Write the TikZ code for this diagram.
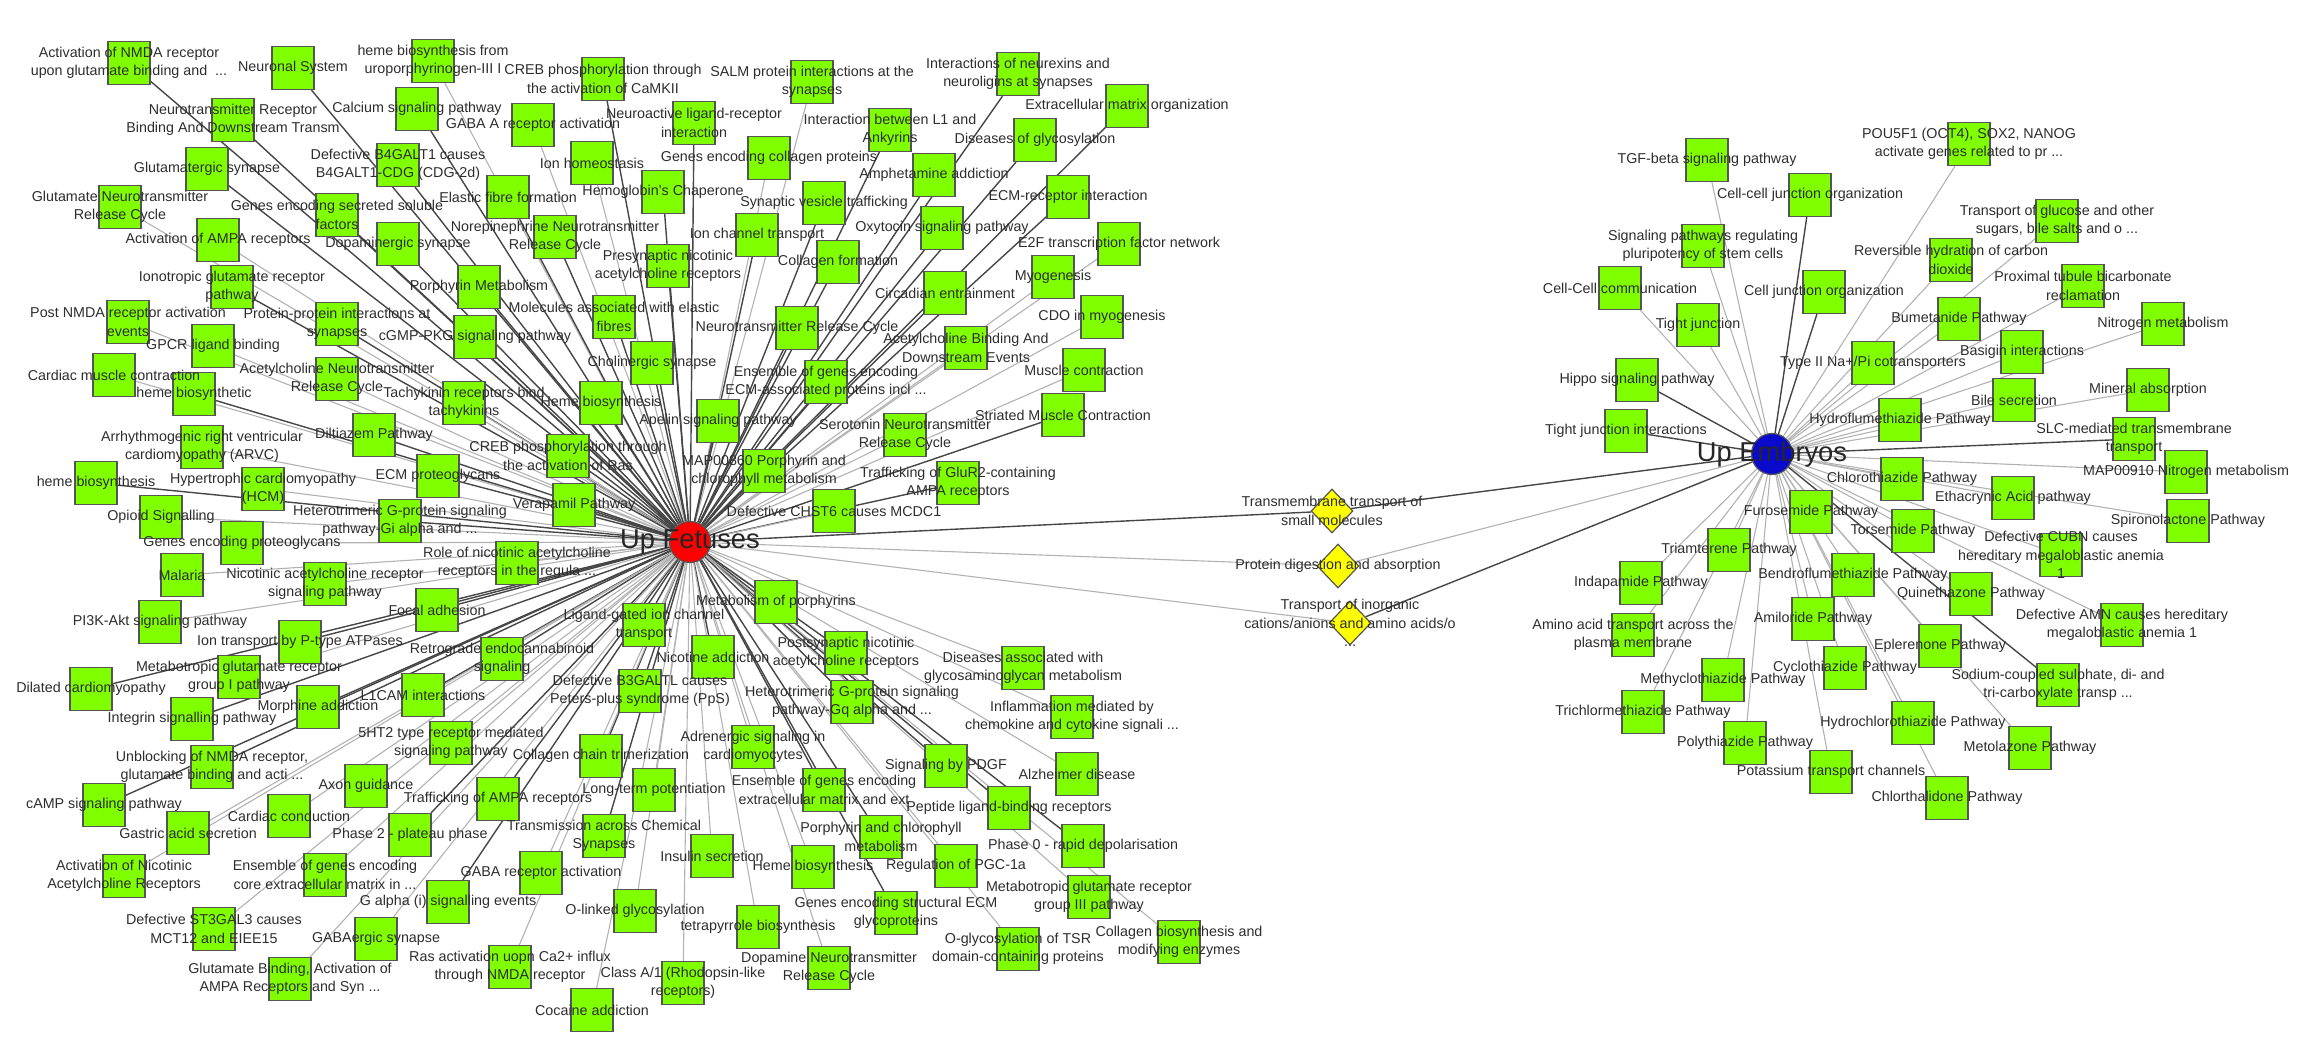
\documentclass[tikz,border=0pt]{standalone}
\usepackage{fontspec}
\setmainfont{Liberation Sans}
\usetikzlibrary{shapes.geometric,backgrounds}

\definecolor{termgreen}{RGB}{128,255,0}
\definecolor{termline}{RGB}{85,85,85}
\definecolor{hubred}{RGB}{255,0,0}
\definecolor{hubblue}{RGB}{10,10,205}
\definecolor{sharedyellow}{RGB}{255,255,0}
\definecolor{edgedark}{RGB}{70,70,70}
\definecolor{edgelight}{RGB}{178,178,178}
\definecolor{labelgray}{RGB}{45,45,45}

\begin{document}
\begin{tikzpicture}[x=1pt,y=-1pt]
\tikzstyle{term} = [draw=termline, line width=1.2pt, fill=termgreen, shape=rectangle, minimum width=42pt, minimum height=43pt, inner sep=0pt]
\tikzstyle{hub} = [draw=termline, line width=1.2pt, shape=circle, minimum size=41pt, inner sep=0pt]
\tikzstyle{shared} = [draw=termline, line width=1.2pt, fill=sharedyellow, shape=diamond, minimum width=42pt, minimum height=44pt, inner sep=0pt]
\tikzstyle{tl} = [inner sep=0pt, align=center, text=labelgray, font=\fontsize{14.3}{18.3}\selectfont]
\tikzstyle{hl} = [inner sep=0pt, text=black!85, font=\fontsize{27.3}{30}\selectfont]
\tikzstyle{darkedge} = [draw=edgedark, line width=1.4pt]
\tikzstyle{lightedge} = [draw=edgelight, line width=1.1pt]
\useasboundingbox (0,0) rectangle (2313,1057);

\node [term] (actnmda) at (129, 63) {};
\node [term] (neuronal) at (293, 68) {};
\node [term] (hemeuro) at (433, 61) {};
\node [term] (crebcamk) at (603, 79) {};
\node [term] (salm) at (812, 82) {};
\node [term] (neurexin) at (1018, 74) {};
\node [term] (calcium) at (417, 109) {};
\node [term] (gabaa) at (533, 125) {};
\node [term] (ntrb) at (233, 120) {};
\node [term] (neuroact) at (694, 123) {};
\node [term] (ecmorg) at (1127, 106) {};
\node [term] (lonank) at (890, 130) {};
\node [term] (glyco) at (1035, 140) {};
\node [term] (ionhomeo) at (592, 163) {};
\node [term] (glutsyn) at (207, 169) {};
\node [term] (bgalt) at (398, 165) {};
\node [term] (collprot) at (769, 158) {};
\node [term] (hemoglobin) at (663, 192) {};
\node [term] (amphet) at (934, 175) {};
\node [term] (elastic) at (508, 197) {};
\node [term] (synves) at (824, 203) {};
\node [term] (ecmrec) at (1068, 197) {};
\node [term] (glutntrc) at (120, 207) {};
\node [term] (secreted) at (337, 215) {};
\node [term] (noreph) at (555, 237) {};
\node [term] (ionchan) at (757, 235) {};
\node [term] (oxytocin) at (942, 228) {};
\node [term] (actampa) at (218, 240) {};
\node [term] (dopa) at (398, 244) {};
\node [term] (presyn) at (668, 266) {};
\node [term] (collform) at (838, 262) {};
\node [term] (etwof) at (1119, 244) {};
\node [term] (ionotropic) at (232, 287) {};
\node [term] (porphmet) at (479, 287) {};
\node [term] (myogen) at (1053, 277) {};
\node [term] (circadian) at (945, 293) {};
\node [term] (postnmda) at (128, 322) {};
\node [term] (ppisyn) at (337, 324) {};
\node [term] (molelastic) at (614, 317) {};
\node [term] (ntrc) at (797, 328) {};
\node [term] (cdo) at (1102, 317) {};
\node [term] (gpcr) at (213, 346) {};
\node [term] (cgmp) at (475, 337) {};
\node [term] (cholin) at (652, 363) {};
\node [term] (achbind) at (966, 348) {};
\node [term] (musclec) at (1084, 370) {};
\node [term] (cardmusc) at (114, 375) {};
\node [term] (hemesynth) at (194, 394) {};
\node [term] (achntrc) at (337, 379) {};
\node [term] (tachy) at (464, 403) {};
\node [term] (hemeb) at (601, 403) {};
\node [term] (ensecm) at (826, 382) {};
\node [term] (apelin) at (718, 421) {};
\node [term] (diltiazem) at (374, 435) {};
\node [term] (serotonin) at (905, 435) {};
\node [term] (striated) at (1063, 415) {};
\node [term] (arvc) at (202, 447) {};
\node [term] (crebras) at (568, 456) {};
\node [term] (mapporph) at (764, 471) {};
\node [term] (hemea) at (96, 483) {};
\node [term] (hcm) at (263, 489) {};
\node [term] (ecmprot) at (438, 476) {};
\node [term] (glurtwo) at (958, 483) {};
\node [term] (opioid) at (161, 517) {};
\node [term] (verapamil) at (574, 505) {};
\node [term] (hetgi) at (400, 521) {};
\node [term] (chst) at (834, 511) {};
\node [term] (proteogly) at (242, 543) {};
\node [term] (malaria) at (182, 575) {};
\node [term] (nicsig) at (325, 584) {};
\node [term] (nicrole) at (517, 563) {};
\node [term] (pik) at (160, 622) {};
\node [term] (focal) at (437, 610) {};
\node [term] (ptype) at (300, 642) {};
\node [term] (lgic) at (644, 625) {};
\node [term] (metporph) at (776, 602) {};
\node [term] (retro) at (502, 659) {};
\node [term] (nicotine) at (713, 657) {};
\node [term] (postsyn) at (846, 653) {};
\node [term] (gag) at (1023, 668) {};
\node [term] (mglura) at (239, 677) {};
\node [term] (dilated) at (91, 689) {};
\node [term] (lcam) at (423, 695) {};
\node [term] (bgaltl) at (640, 691) {};
\node [term] (hetgq) at (852, 702) {};
\node [term] (integrin) at (192, 719) {};
\node [term] (morphine) at (318, 707) {};
\node [term] (inflam) at (1072, 717) {};
\node [term] (htwo) at (451, 743) {};
\node [term] (unblock) at (212, 767) {};
\node [term] (colltrim) at (601, 756) {};
\node [term] (adrenergic) at (753, 747) {};
\node [term] (axon) at (366, 786) {};
\node [term] (camp) at (104, 805) {};
\node [term] (traffampa) at (498, 799) {};
\node [term] (ltp) at (654, 790) {};
\node [term] (pdgf) at (946, 766) {};
\node [term] (alzheimer) at (1077, 774) {};
\node [term] (ensextra) at (824, 790) {};
\node [term] (gastric) at (188, 833) {};
\node [term] (cardcond) at (289, 816) {};
\node [term] (phasetwo) at (410, 835) {};
\node [term] (transchem) at (604, 836) {};
\node [term] (peptide) at (1009, 808) {};
\node [term] (porchl) at (881, 837) {};
\node [term] (actnic) at (124, 876) {};
\node [term] (enscore) at (325, 875) {};
\node [term] (gabarec) at (541, 873) {};
\node [term] (insulin) at (712, 856) {};
\node [term] (hemec) at (813, 867) {};
\node [term] (pgc) at (956, 866) {};
\node [term] (phasezero) at (1083, 846) {};
\node [term] (gai) at (448, 902) {};
\node [term] (mglurc) at (1089, 897) {};
\node [term] (stgal) at (214, 929) {};
\node [term] (gabaergic) at (376, 939) {};
\node [term] (olinked) at (635, 911) {};
\node [term] (tetrapyr) at (758, 927) {};
\node [term] (structecm) at (896, 913) {};
\node [term] (tsr) at (1018, 949) {};
\node [term] (collbio) at (1179, 942) {};
\node [term] (glutbind) at (290, 979) {};
\node [term] (rasca) at (510, 967) {};
\node [term] (dopantrc) at (829, 968) {};
\node [term] (rhodopsin) at (683, 983) {};
\node [term] (cocaine) at (592, 1010) {};

\node [term] (tgfb) at (1707, 160) {};
\node [term] (cjorga) at (1810, 195) {};
\node [term] (pou) at (1969, 144) {};
\node [term] (sigpluri) at (1703, 246) {};
\node [term] (glucose) at (2057, 221) {};
\node [term] (revhyd) at (1951, 260) {};
\node [term] (cellcell) at (1620, 288) {};
\node [term] (cjorgb) at (1824, 292) {};
\node [term] (proximal) at (2083, 286) {};
\node [term] (tightj) at (1698, 325) {};
\node [term] (bumet) at (1959, 319) {};
\node [term] (nitrogen) at (2163, 324) {};
\node [term] (typeii) at (1873, 363) {};
\node [term] (basigin) at (2022, 352) {};
\node [term] (hippo) at (1637, 380) {};
\node [term] (bile) at (2014, 400) {};
\node [term] (mineral) at (2148, 390) {};
\node [term] (hydroflu) at (1900, 420) {};
\node [term] (tightji) at (1626, 431) {};
\node [term] (slc) at (2134, 439) {};
\node [term] (mapnitro) at (2186, 472) {};
\node [term] (chlorothia) at (1902, 479) {};
\node [term] (ethacrynic) at (2013, 498) {};
\node [term] (spirono) at (2188, 521) {};
\node [term] (furosemide) at (1811, 512) {};
\node [term] (torsemide) at (1913, 531) {};
\node [term] (cubn) at (2061, 555) {};
\node [term] (triamterene) at (1729, 550) {};
\node [term] (bendro) at (1853, 575) {};
\node [term] (quineth) at (1971, 594) {};
\node [term] (indapamide) at (1641, 583) {};
\node [term] (amiloride) at (1813, 619) {};
\node [term] (amn) at (2122, 625) {};
\node [term] (aminoacid) at (1633, 635) {};
\node [term] (eplerenone) at (1940, 646) {};
\node [term] (cyclothia) at (1845, 668) {};
\node [term] (methyclo) at (1723, 680) {};
\node [term] (sodium) at (2058, 685) {};
\node [term] (trichlor) at (1643, 712) {};
\node [term] (hydrochloro) at (1913, 723) {};
\node [term] (polythia) at (1745, 743) {};
\node [term] (metolazone) at (2030, 748) {};
\node [term] (potassium) at (1831, 772) {};
\node [term] (chlorthal) at (1947, 798) {};

\node [shared] (transmem) at (1332, 511) {};
\node [shared] (protdig) at (1338, 566) {};
\node [shared] (inorganic) at (1350, 623) {};

\node [hub, fill=hubred] (fet) at (690, 542) {};
\node [hub, fill=hubblue] (emb) at (1772, 454) {};

\begin{scope}[on background layer]
\draw [darkedge] (fet) -- (actnmda);
\draw [darkedge] (fet) -- (neuronal);
\draw [lightedge] (fet) -- (hemeuro);
\draw [darkedge] (fet) -- (crebcamk);
\draw [lightedge] (fet) -- (salm);
\draw [darkedge] (fet) -- (neurexin);
\draw [darkedge] (fet) -- (calcium);
\draw [lightedge] (fet) -- (gabaa);
\draw [darkedge] (fet) -- (ntrb);
\draw [darkedge] (fet) -- (neuroact);
\draw [darkedge] (fet) -- (ecmorg);
\draw [darkedge] (fet) -- (lonank);
\draw [darkedge] (fet) -- (glyco);
\draw [lightedge] (fet) -- (ionhomeo);
\draw [darkedge] (fet) -- (glutsyn);
\draw [darkedge] (fet) -- (bgalt);
\draw [lightedge] (fet) -- (collprot);
\draw [darkedge] (fet) -- (hemoglobin);
\draw [darkedge] (fet) -- (amphet);
\draw [darkedge] (fet) -- (elastic);
\draw [darkedge] (fet) -- (synves);
\draw [darkedge] (fet) -- (ecmrec);
\draw [lightedge] (fet) -- (glutntrc);
\draw [darkedge] (fet) -- (secreted);
\draw [darkedge] (fet) -- (noreph);
\draw [darkedge] (fet) -- (ionchan);
\draw [darkedge] (fet) -- (oxytocin);
\draw [lightedge] (fet) -- (actampa);
\draw [darkedge] (fet) -- (dopa);
\draw [darkedge] (fet) -- (presyn);
\draw [darkedge] (fet) -- (collform);
\draw [lightedge] (fet) -- (etwof);
\draw [darkedge] (fet) -- (ionotropic);
\draw [darkedge] (fet) -- (porphmet);
\draw [lightedge] (fet) -- (myogen);
\draw [darkedge] (fet) -- (circadian);
\draw [lightedge] (fet) -- (postnmda);
\draw [darkedge] (fet) -- (ppisyn);
\draw [darkedge] (fet) -- (molelastic);
\draw [darkedge] (fet) -- (ntrc);
\draw [lightedge] (fet) -- (cdo);
\draw [lightedge] (fet) -- (gpcr);
\draw [darkedge] (fet) -- (cgmp);
\draw [darkedge] (fet) -- (cholin);
\draw [lightedge] (fet) -- (achbind);
\draw [lightedge] (fet) -- (musclec);
\draw [lightedge] (fet) -- (cardmusc);
\draw [darkedge] (fet) -- (hemesynth);
\draw [lightedge] (fet) -- (achntrc);
\draw [lightedge] (fet) -- (tachy);
\draw [darkedge] (fet) -- (hemeb);
\draw [darkedge] (fet) -- (ensecm);
\draw [darkedge] (fet) -- (apelin);
\draw [darkedge] (fet) -- (diltiazem);
\draw [lightedge] (fet) -- (serotonin);
\draw [darkedge] (fet) -- (striated);
\draw [lightedge] (fet) -- (arvc);
\draw [darkedge] (fet) -- (crebras);
\draw [darkedge] (fet) -- (mapporph);
\draw [darkedge] (fet) -- (hemea);
\draw [lightedge] (fet) -- (hcm);
\draw [darkedge] (fet) -- (ecmprot);
\draw [darkedge] (fet) -- (glurtwo);
\draw [lightedge] (fet) -- (opioid);
\draw [darkedge] (fet) -- (verapamil);
\draw [darkedge] (fet) -- (hetgi);
\draw [lightedge] (fet) -- (chst);
\draw [lightedge] (fet) -- (proteogly);
\draw [lightedge] (fet) -- (malaria);
\draw [lightedge] (fet) -- (nicsig);
\draw [lightedge] (fet) -- (nicrole);
\draw [lightedge] (fet) -- (pik);
\draw [darkedge] (fet) -- (focal);
\draw [darkedge] (fet) -- (ptype);
\draw [darkedge] (fet) -- (lgic);
\draw [lightedge] (fet) -- (metporph);
\draw [darkedge] (fet) -- (retro);
\draw [darkedge] (fet) -- (nicotine);
\draw [darkedge] (fet) -- (postsyn);
\draw [lightedge] (fet) -- (gag);
\draw [lightedge] (fet) -- (mglura);
\draw [darkedge] (fet) -- (dilated);
\draw [darkedge] (fet) -- (lcam);
\draw [darkedge] (fet) -- (bgaltl);
\draw [darkedge] (fet) -- (hetgq);
\draw [darkedge] (fet) -- (integrin);
\draw [darkedge] (fet) -- (morphine);
\draw [lightedge] (fet) -- (inflam);
\draw [lightedge] (fet) -- (htwo);
\draw [darkedge] (fet) -- (unblock);
\draw [darkedge] (fet) -- (colltrim);
\draw [lightedge] (fet) -- (adrenergic);
\draw [lightedge] (fet) -- (axon);
\draw [darkedge] (fet) -- (camp);
\draw [darkedge] (fet) -- (traffampa);
\draw [lightedge] (fet) -- (ltp);
\draw [darkedge] (fet) -- (pdgf);
\draw [lightedge] (fet) -- (alzheimer);
\draw [darkedge] (fet) -- (ensextra);
\draw [lightedge] (fet) -- (gastric);
\draw [lightedge] (fet) -- (cardcond);
\draw [darkedge] (fet) -- (phasetwo);
\draw [darkedge] (fet) -- (transchem);
\draw [darkedge] (fet) -- (peptide);
\draw [darkedge] (fet) -- (porchl);
\draw [lightedge] (fet) -- (actnic);
\draw [lightedge] (fet) -- (enscore);
\draw [lightedge] (fet) -- (gabarec);
\draw [lightedge] (fet) -- (insulin);
\draw [lightedge] (fet) -- (hemec);
\draw [lightedge] (fet) -- (pgc);
\draw [darkedge] (fet) -- (phasezero);
\draw [darkedge] (fet) -- (gai);
\draw [lightedge] (fet) -- (mglurc);
\draw [lightedge] (fet) -- (stgal);
\draw [lightedge] (fet) -- (gabaergic);
\draw [lightedge] (fet) -- (olinked);
\draw [lightedge] (fet) -- (tetrapyr);
\draw [darkedge] (fet) -- (structecm);
\draw [lightedge] (fet) -- (tsr);
\draw [lightedge] (fet) -- (collbio);
\draw [lightedge] (fet) -- (glutbind);
\draw [lightedge] (fet) -- (rasca);
\draw [lightedge] (fet) -- (dopantrc);
\draw [lightedge] (fet) -- (rhodopsin);
\draw [lightedge] (fet) -- (cocaine);

\draw [darkedge] (fet) -- (transmem);
\draw [lightedge] (fet) -- (protdig);
\draw [lightedge] (fet) -- (inorganic);
\draw [darkedge] (emb) -- (transmem);
\draw [lightedge] (emb) -- (protdig);
\draw [darkedge] (emb) -- (inorganic);

\draw [lightedge] (emb) -- (tgfb);
\draw [darkedge] (emb) -- (cjorga);
\draw [lightedge] (emb) -- (pou);
\draw [lightedge] (emb) -- (sigpluri);
\draw [lightedge] (emb) -- (glucose);
\draw [lightedge] (emb) -- (revhyd);
\draw [lightedge] (emb) -- (cellcell);
\draw [darkedge] (emb) -- (cjorgb);
\draw [lightedge] (emb) -- (proximal);
\draw [lightedge] (emb) -- (tightj);
\draw [lightedge] (emb) -- (bumet);
\draw [lightedge] (emb) -- (nitrogen);
\draw [lightedge] (emb) -- (typeii);
\draw [lightedge] (emb) -- (basigin);
\draw [darkedge] (emb) -- (hippo);
\draw [lightedge] (emb) -- (bile);
\draw [lightedge] (emb) -- (mineral);
\draw [lightedge] (emb) -- (hydroflu);
\draw [darkedge] (emb) -- (tightji);
\draw [darkedge] (emb) -- (slc);
\draw [lightedge] (emb) -- (mapnitro);
\draw [lightedge] (emb) -- (chlorothia);
\draw [lightedge] (emb) -- (ethacrynic);
\draw [lightedge] (emb) -- (spirono);
\draw [lightedge] (emb) -- (furosemide);
\draw [lightedge] (emb) -- (torsemide);
\draw [lightedge] (emb) -- (cubn);
\draw [lightedge] (emb) -- (triamterene);
\draw [lightedge] (emb) -- (bendro);
\draw [lightedge] (emb) -- (quineth);
\draw [lightedge] (emb) -- (indapamide);
\draw [lightedge] (emb) -- (amiloride);
\draw [lightedge] (emb) -- (amn);
\draw [lightedge] (emb) -- (aminoacid);
\draw [lightedge] (emb) -- (eplerenone);
\draw [lightedge] (emb) -- (cyclothia);
\draw [lightedge] (emb) -- (methyclo);
\draw [darkedge] (emb) -- (sodium);
\draw [lightedge] (emb) -- (trichlor);
\draw [lightedge] (emb) -- (hydrochloro);
\draw [lightedge] (emb) -- (polythia);
\draw [lightedge] (emb) -- (metolazone);
\draw [lightedge] (emb) -- (potassium);
\draw [lightedge] (emb) -- (chlorthal);
\end{scope}

\node [tl] at (actnmda) {Activation of NMDA receptor\\upon glutamate binding and \ ...};
\node [tl] at (neuronal) {Neuronal System};
\node [tl] at (hemeuro) {heme biosynthesis from\\uroporphyrinogen-III I};
\node [tl] at (crebcamk) {CREB phosphorylation through\\the activation of CaMKII};
\node [tl] at (salm) {SALM protein interactions at the\\synapses};
\node [tl] at (neurexin) {Interactions of neurexins and\\neuroligins at synapses};
\node [tl] at (calcium) {Calcium signaling pathway};
\node [tl] at (gabaa) {GABA A receptor activation};
\node [tl] at (ntrb) {Neurotransmitter Receptor\\Binding And Downstream Transm};
\node [tl] at (neuroact) {Neuroactive ligand-receptor\\interaction};
\node [tl] at (ecmorg) {Extracellular matrix organization};
\node [tl] at (lonank) {Interaction between L1 and\\Ankyrins};
\node [tl] at (glyco) {Diseases of glycosylation};
\node [tl] at (ionhomeo) {Ion homeostasis};
\node [tl] at (glutsyn) {Glutamatergic synapse};
\node [tl] at (bgalt) {Defective B4GALT1 causes\\B4GALT1-CDG (CDG-2d)};
\node [tl] at (collprot) {Genes encoding collagen proteins};
\node [tl] at (hemoglobin) {Hemoglobin's Chaperone};
\node [tl] at (amphet) {Amphetamine addiction};
\node [tl] at (elastic) {Elastic fibre formation};
\node [tl] at (synves) {Synaptic vesicle trafficking};
\node [tl] at (ecmrec) {ECM-receptor interaction};
\node [tl] at (glutntrc) {Glutamate Neurotransmitter\\Release Cycle};
\node [tl] at (secreted) {Genes encoding secreted soluble\\factors};
\node [tl] at (noreph) {Norepinephrine Neurotransmitter\\Release Cycle};
\node [tl] at (ionchan) {Ion channel transport};
\node [tl] at (oxytocin) {Oxytocin signaling pathway};
\node [tl] at (actampa) {Activation of AMPA receptors};
\node [tl] at (dopa) {Dopaminergic synapse};
\node [tl] at (presyn) {Presynaptic nicotinic\\acetylcholine receptors};
\node [tl] at (collform) {Collagen formation};
\node [tl] at (etwof) {E2F transcription factor network};
\node [tl] at (ionotropic) {Ionotropic glutamate receptor\\pathway};
\node [tl] at (porphmet) {Porphyrin Metabolism};
\node [tl] at (myogen) {Myogenesis};
\node [tl] at (circadian) {Circadian entrainment};
\node [tl] at (postnmda) {Post NMDA receptor activation\\events};
\node [tl] at (ppisyn) {Protein-protein interactions at\\synapses};
\node [tl] at (molelastic) {Molecules associated with elastic\\fibres};
\node [tl] at (ntrc) {Neurotransmitter Release Cycle};
\node [tl] at (cdo) {CDO in myogenesis};
\node [tl] at (gpcr) {GPCR ligand binding};
\node [tl] at (cgmp) {cGMP-PKG signaling pathway};
\node [tl] at (cholin) {Cholinergic synapse};
\node [tl] at (achbind) {Acetylcholine Binding And\\Downstream Events};
\node [tl] at (musclec) {Muscle contraction};
\node [tl] at (cardmusc) {Cardiac muscle contraction};
\node [tl] at (hemesynth) {heme biosynthetic};
\node [tl] at (achntrc) {Acetylcholine Neurotransmitter\\Release Cycle};
\node [tl] at (tachy) {Tachykinin receptors bind\\tachykinins};
\node [tl] at (hemeb) {Heme biosynthesis};
\node [tl] at (ensecm) {Ensemble of genes encoding\\ECM-associated proteins incl ...};
\node [tl] at (apelin) {Apelin signaling pathway};
\node [tl] at (diltiazem) {Diltiazem Pathway};
\node [tl] at (serotonin) {Serotonin Neurotransmitter\\Release Cycle};
\node [tl] at (striated) {Striated Muscle Contraction};
\node [tl] at (arvc) {Arrhythmogenic right ventricular\\cardiomyopathy (ARVC)};
\node [tl] at (crebras) {CREB phosphorylation through\\the activation of Ras};
\node [tl] at (mapporph) {MAP00860 Porphyrin and\\chlorophyll metabolism};
\node [tl] at (hemea) {heme biosynthesis};
\node [tl] at (hcm) {Hypertrophic cardiomyopathy\\(HCM)};
\node [tl] at (ecmprot) {ECM proteoglycans};
\node [tl] at (glurtwo) {Trafficking of GluR2-containing\\AMPA receptors};
\node [tl] at (opioid) {Opioid Signalling};
\node [tl] at (verapamil) {Verapamil Pathway};
\node [tl] at (hetgi) {Heterotrimeric G-protein signaling\\pathway-Gi alpha and ...};
\node [tl] at (chst) {Defective CHST6 causes MCDC1};
\node [tl] at (proteogly) {Genes encoding proteoglycans};
\node [tl] at (malaria) {Malaria};
\node [tl] at (nicsig) {Nicotinic acetylcholine receptor\\signaling pathway};
\node [tl] at (nicrole) {Role of nicotinic acetylcholine\\receptors in the regula ...};
\node [tl] at (pik) {PI3K-Akt signaling pathway};
\node [tl] at (focal) {Focal adhesion};
\node [tl] at (ptype) {Ion transport by P-type ATPases};
\node [tl] at (lgic) {Ligand-gated ion channel\\transport};
\node [tl] at (metporph) {Metabolism of porphyrins};
\node [tl] at (retro) {Retrograde endocannabinoid\\signaling};
\node [tl] at (nicotine) {Nicotine addiction};
\node [tl] at (postsyn) {Postsynaptic nicotinic\\acetylcholine receptors};
\node [tl] at (gag) {Diseases associated with\\glycosaminoglycan metabolism};
\node [tl] at (mglura) {Metabotropic glutamate receptor\\group I pathway};
\node [tl] at (dilated) {Dilated cardiomyopathy};
\node [tl] at (lcam) {L1CAM interactions};
\node [tl] at (bgaltl) {Defective B3GALTL causes\\Peters-plus syndrome (PpS)};
\node [tl] at (hetgq) {Heterotrimeric G-protein signaling\\pathway-Gq alpha and ...};
\node [tl] at (integrin) {Integrin signalling pathway};
\node [tl] at (morphine) {Morphine addiction};
\node [tl] at (inflam) {Inflammation mediated by\\chemokine and cytokine signali ...};
\node [tl] at (htwo) {5HT2 type receptor mediated\\signaling pathway};
\node [tl] at (unblock) {Unblocking of NMDA receptor,\\glutamate binding and acti ...};
\node [tl] at (colltrim) {Collagen chain trimerization};
\node [tl] at (adrenergic) {Adrenergic signaling in\\cardiomyocytes};
\node [tl] at (axon) {Axon guidance};
\node [tl] at (camp) {cAMP signaling pathway};
\node [tl] at (traffampa) {Trafficking of AMPA receptors};
\node [tl] at (ltp) {Long-term potentiation};
\node [tl] at (pdgf) {Signaling by PDGF};
\node [tl] at (alzheimer) {Alzheimer disease};
\node [tl] at (ensextra) {Ensemble of genes encoding\\extracellular matrix and ext};
\node [tl] at (gastric) {Gastric acid secretion};
\node [tl] at (cardcond) {Cardiac conduction};
\node [tl] at (phasetwo) {Phase 2 - plateau phase};
\node [tl] at (transchem) {Transmission across Chemical\\Synapses};
\node [tl] at (peptide) {Peptide ligand-binding receptors};
\node [tl] at (porchl) {Porphyrin and chlorophyll\\metabolism};
\node [tl] at (actnic) {Activation of Nicotinic\\Acetylcholine Receptors};
\node [tl] at (enscore) {Ensemble of genes encoding\\core extracellular matrix in ...};
\node [tl] at (gabarec) {GABA receptor activation};
\node [tl] at (insulin) {Insulin secretion};
\node [tl] at (hemec) {Heme biosynthesis};
\node [tl] at (pgc) {Regulation of PGC-1a};
\node [tl] at (phasezero) {Phase 0 - rapid depolarisation};
\node [tl] at (gai) {G alpha (i) signalling events};
\node [tl] at (mglurc) {Metabotropic glutamate receptor\\group III pathway};
\node [tl] at (stgal) {Defective ST3GAL3 causes\\MCT12 and EIEE15};
\node [tl] at (gabaergic) {GABAergic synapse};
\node [tl] at (olinked) {O-linked glycosylation};
\node [tl] at (tetrapyr) {tetrapyrrole biosynthesis};
\node [tl] at (structecm) {Genes encoding structural ECM\\glycoproteins};
\node [tl] at (tsr) {O-glycosylation of TSR\\domain-containing proteins};
\node [tl] at (collbio) {Collagen biosynthesis and\\modifying enzymes};
\node [tl] at (glutbind) {Glutamate Binding, Activation of\\AMPA Receptors and Syn ...};
\node [tl] at (rasca) {Ras activation uopn Ca2+ influx\\through NMDA receptor};
\node [tl] at (dopantrc) {Dopamine Neurotransmitter\\Release Cycle};
\node [tl] at (rhodopsin) {Class A/1 (Rhodopsin-like\\receptors)};
\node [tl] at (cocaine) {Cocaine addiction};

\node [tl] at (tgfb) {TGF-beta signaling pathway};
\node [tl] at (cjorga) {Cell-cell junction organization};
\node [tl] at (pou) {POU5F1 (OCT4), SOX2, NANOG\\activate genes related to pr ...};
\node [tl] at (sigpluri) {Signaling pathways regulating\\pluripotency of stem cells};
\node [tl] at (glucose) {Transport of glucose and other\\sugars, bile salts and o ...};
\node [tl] at (revhyd) {Reversible hydration of carbon\\dioxide};
\node [tl] at (cellcell) {Cell-Cell communication};
\node [tl] at (cjorgb) {Cell junction organization};
\node [tl] at (proximal) {Proximal tubule bicarbonate\\reclamation};
\node [tl] at (tightj) {Tight junction};
\node [tl] at (bumet) {Bumetanide Pathway};
\node [tl] at (nitrogen) {Nitrogen metabolism};
\node [tl] at (typeii) {Type II Na+/Pi cotransporters};
\node [tl] at (basigin) {Basigin interactions};
\node [tl] at (hippo) {Hippo signaling pathway};
\node [tl] at (bile) {Bile secretion};
\node [tl] at (mineral) {Mineral absorption};
\node [tl] at (hydroflu) {Hydroflumethiazide Pathway};
\node [tl] at (tightji) {Tight junction interactions};
\node [tl] at (slc) {SLC-mediated transmembrane\\transport};
\node [tl] at (mapnitro) {MAP00910 Nitrogen metabolism};
\node [tl] at (chlorothia) {Chlorothiazide Pathway};
\node [tl] at (ethacrynic) {Ethacrynic Acid pathway};
\node [tl] at (spirono) {Spironolactone Pathway};
\node [tl] at (furosemide) {Furosemide Pathway};
\node [tl] at (torsemide) {Torsemide Pathway};
\node [tl] at (cubn) {Defective CUBN causes\\hereditary megaloblastic anemia\\1};
\node [tl] at (triamterene) {Triamterene Pathway};
\node [tl] at (bendro) {Bendroflumethiazide Pathway};
\node [tl] at (quineth) {Quinethazone Pathway};
\node [tl] at (indapamide) {Indapamide Pathway};
\node [tl] at (amiloride) {Amiloride Pathway};
\node [tl] at (amn) {Defective AMN causes hereditary\\megaloblastic anemia 1};
\node [tl] at (aminoacid) {Amino acid transport across the\\plasma membrane};
\node [tl] at (eplerenone) {Eplerenone Pathway};
\node [tl] at (cyclothia) {Cyclothiazide Pathway};
\node [tl] at (methyclo) {Methyclothiazide Pathway};
\node [tl] at (sodium) {Sodium-coupled sulphate, di- and\\tri-carboxylate transp ...};
\node [tl] at (trichlor) {Trichlormethiazide Pathway};
\node [tl] at (hydrochloro) {Hydrochlorothiazide Pathway};
\node [tl] at (polythia) {Polythiazide Pathway};
\node [tl] at (metolazone) {Metolazone Pathway};
\node [tl] at (potassium) {Potassium transport channels};
\node [tl] at (chlorthal) {Chlorthalidone Pathway};

\node [tl] at (transmem) {Transmembrane transport of\\small molecules};
\node [tl] at (protdig) {Protein digestion and absorption};
\node [tl] at (inorganic) {Transport of inorganic\\cations/anions and amino acids/o\\...};

\node [hl] at (fet) {Up Fetuses};
\node [hl] at (emb) {Up Embryos};
\end{tikzpicture}
\end{document}
